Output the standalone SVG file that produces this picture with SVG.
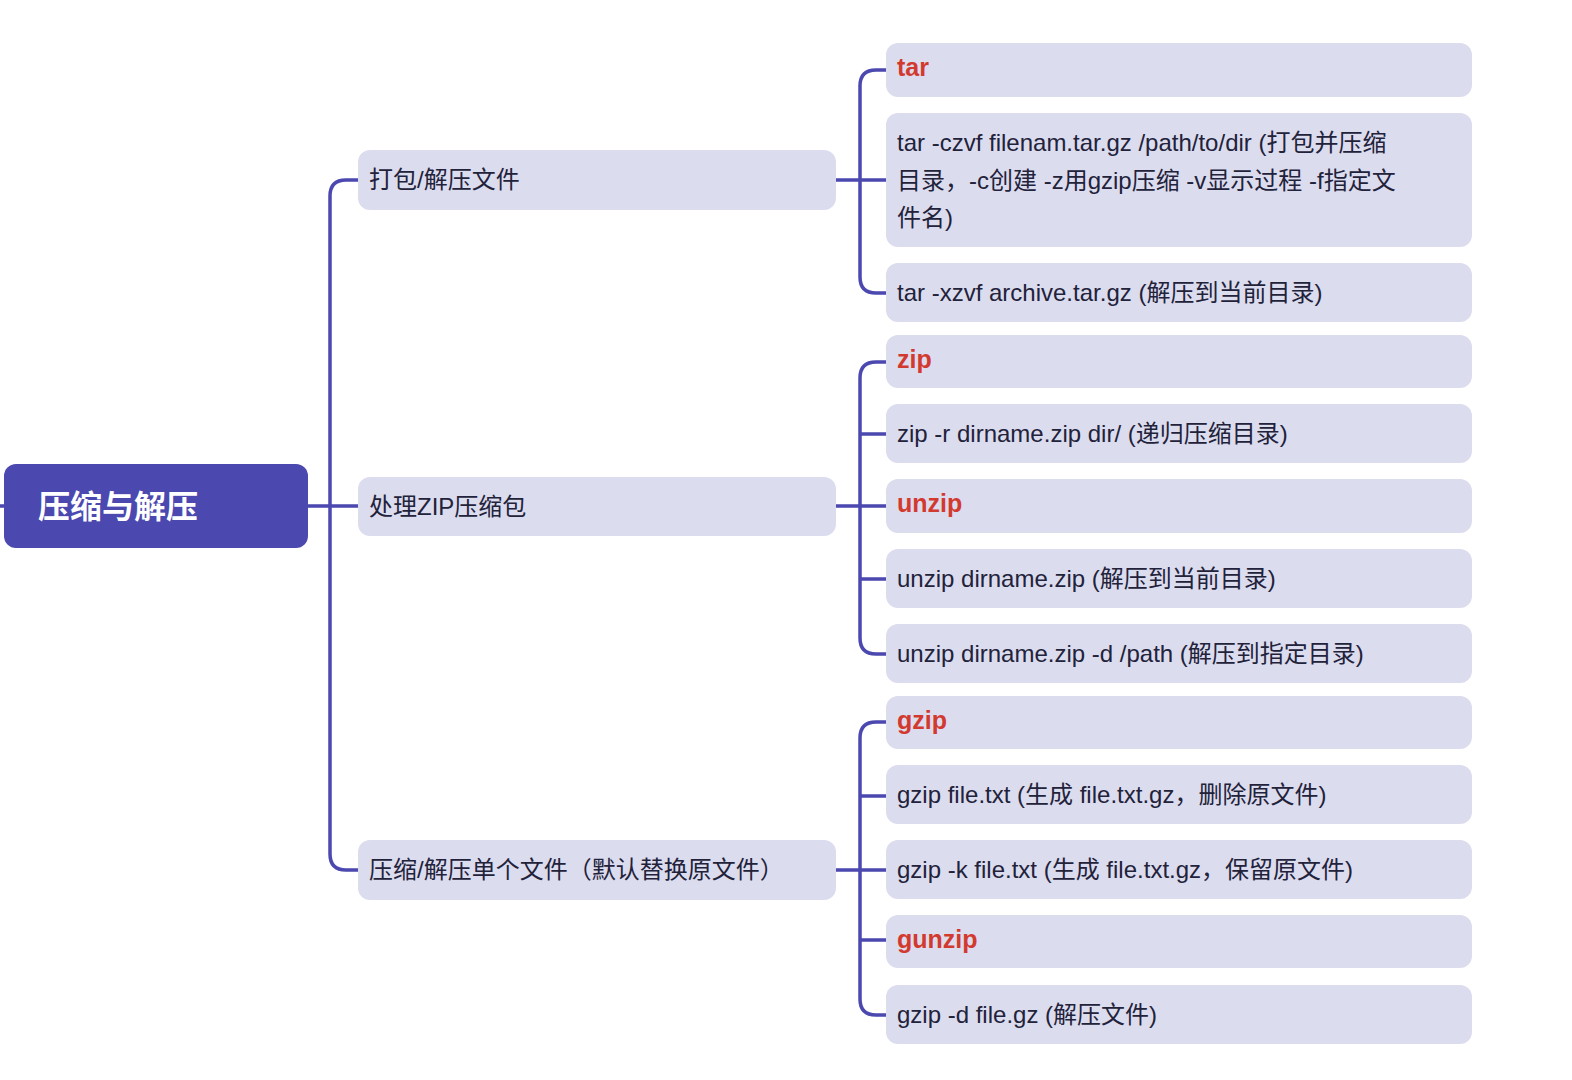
<svg xmlns="http://www.w3.org/2000/svg" width="1572" height="1080" viewBox="0 0 1572 1080">
<style>
.t{font-family:"Liberation Sans","Noto Sans CJK SC",sans-serif;font-size:24px;fill:#22223a}
.r{font-family:"Liberation Sans","Noto Sans CJK SC",sans-serif;font-size:25px;font-weight:bold;fill:#d23a30}
.n{fill:#dcdcef}
.c{fill:none;stroke:#4b48b0;stroke-width:3.5}
</style>
<rect width="1572" height="1080" fill="#fff"/>
<g id="connectors">
<path class="c" d="M0 506H358M358 180H346Q330 180 330 196V854Q330 870 346 870H358"/>
<path class="c" d="M836 180H886M886 70H876Q860 70 860 86V277Q860 293 876 293H886"/>
<path class="c" d="M836 506H886M886 362H876Q860 362 860 378V638Q860 654 876 654H886M860 434Q860 434 876 434H886M860 579H886"/>
<path class="c" d="M836 870H886M886 722H876Q860 722 860 738V999Q860 1015 876 1015H886M860 796H886M860 940H886"/>
</g>
<g id="root"><rect x="4" y="464" width="304" height="84" rx="12" fill="#4b48b0"/><text x="38" y="518" style="font-family:'Liberation Sans','Noto Sans CJK SC',sans-serif;font-size:32px;font-weight:bold;fill:#fff">压缩与解压</text></g>
<g id="m1"><rect class="n" x="358" y="150" width="478" height="60" rx="12"/><text class="t" x="369" y="188">打包/解压文件</text></g>
<g id="m2"><rect class="n" x="358" y="477" width="478" height="59" rx="12"/><text class="t" x="369" y="515">处理ZIP压缩包</text></g>
<g id="m3"><rect class="n" x="358" y="840" width="478" height="60" rx="12"/><text class="t" x="369" y="878">压缩/解压单个文件（默认替换原文件）</text></g>
<g id="l1"><rect class="n" x="886" y="43" width="586" height="54" rx="12"/><text class="r" x="897" y="76">tar</text></g>
<g id="l2"><rect class="n" x="886" y="113" width="586" height="134" rx="12"/><text class="t" x="897" y="151">tar -czvf filenam.tar.gz /path/to/dir (打包并压缩</text><text class="t" x="897" y="189">目录，-c创建 -z用gzip压缩 -v显示过程 -f指定文</text><text class="t" x="897" y="226">件名)</text></g>
<g id="l3"><rect class="n" x="886" y="263" width="586" height="59" rx="12"/><text class="t" x="897" y="301">tar -xzvf archive.tar.gz (解压到当前目录)</text></g>
<g id="l4"><rect class="n" x="886" y="335" width="586" height="53" rx="12"/><text class="r" x="897" y="368">zip</text></g>
<g id="l5"><rect class="n" x="886" y="404" width="586" height="59" rx="12"/><text class="t" x="897" y="442">zip -r dirname.zip dir/ (递归压缩目录)</text></g>
<g id="l6"><rect class="n" x="886" y="479" width="586" height="54" rx="12"/><text class="r" x="897" y="512">unzip</text></g>
<g id="l7"><rect class="n" x="886" y="549" width="586" height="59" rx="12"/><text class="t" x="897" y="587">unzip dirname.zip (解压到当前目录)</text></g>
<g id="l8"><rect class="n" x="886" y="624" width="586" height="59" rx="12"/><text class="t" x="897" y="662">unzip dirname.zip -d /path (解压到指定目录)</text></g>
<g id="l9"><rect class="n" x="886" y="696" width="586" height="53" rx="12"/><text class="r" x="897" y="729">gzip</text></g>
<g id="l10"><rect class="n" x="886" y="765" width="586" height="59" rx="12"/><text class="t" x="897" y="803">gzip file.txt (生成 file.txt.gz，删除原文件)</text></g>
<g id="l11"><rect class="n" x="886" y="840" width="586" height="59" rx="12"/><text class="t" x="897" y="878">gzip -k file.txt (生成 file.txt.gz，保留原文件)</text></g>
<g id="l12"><rect class="n" x="886" y="915" width="586" height="53" rx="12"/><text class="r" x="897" y="948">gunzip</text></g>
<g id="l13"><rect class="n" x="886" y="985" width="586" height="59" rx="12"/><text class="t" x="897" y="1023">gzip -d file.gz (解压文件)</text></g>
</svg>
